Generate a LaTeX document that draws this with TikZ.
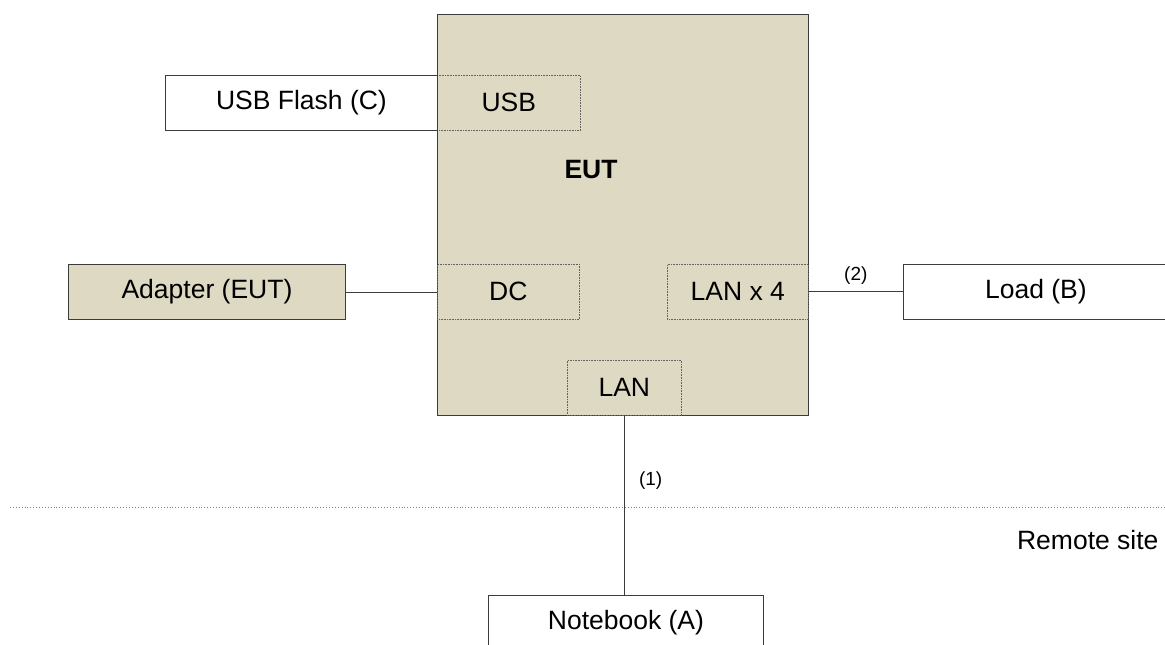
\documentclass[tikz,border=0pt]{standalone}
\usepackage{fontspec}
\setmainfont{Liberation Sans}
\usepackage{tikz}
\usetikzlibrary{positioning}

\definecolor{eutfill}{RGB}{221,217,195}
\definecolor{edge}{RGB}{60,60,60}

\tikzset{
  box/.style={draw=edge, line width=0.9pt, inner sep=0pt, anchor=north west,
    font=\fontsize{26.5}{30}\selectfont},
  port/.style={draw=edge!80, densely dotted, line width=0.6pt, inner sep=0pt,
    anchor=north west, font=\fontsize{26.5}{30}\selectfont},
  wire/.style={draw=edge, line width=0.9pt},
  tag/.style={font=\fontsize{19}{22}\selectfont}
}

\begin{document}
\begin{tikzpicture}[x=1pt,y=-1pt]

      \useasboundingbox (0,0) rectangle (1165,645);
      \clip (0,0) rectangle (1165,645);

      % draw EUT box
      \node[box, fill=eutfill, minimum width=371pt, minimum height=401pt] (eut) at (437,14) {};
      \node[font=\bfseries\fontsize{26.5}{30}\selectfont] (eutname) at (591,170) {EUT};

      % draw ports
      \node[port, minimum width=143pt, minimum height=55pt] (usb) at (437,75) {USB};
      \node[port, minimum width=142pt, minimum height=55pt] (dc) at (437,264) {DC};
      \node[port, minimum width=141pt, minimum height=55pt] (lanx) at (667,264) {LAN x 4};
      \node[port, minimum width=114pt, minimum height=55pt] (lan) at (567,360) {LAN};

      % draw devices
      \node[box, minimum width=272pt, minimum height=55pt] (flash) at (165,75) {USB Flash (C)};
      \node[box, fill=eutfill, minimum width=277pt, minimum height=55pt] (adapter) at (68,264) {Adapter (EUT)};
      \node[box, minimum width=265pt, minimum height=55pt] (load) at (903,264) {Load (B)};
      \node[box, minimum width=275pt, minimum height=55pt] (notebook) at (488,595) {Notebook (A)};

      % draw cables
      \draw[wire] (adapter.east) -- (adapter.east -| dc.west);
      \draw[wire] (lanx.east) -- (lanx.east -| load.west) node[tag, midway, above=4pt] {(2)};
      \draw[wire] (lan.south) -- (lan.south |- notebook.north) node[tag, pos=0.36, right=11pt] {(1)};

      % draw remote site border
      \draw[dotted, line width=0.9pt, gray] (10,507) -- (1165,507);
      \node[anchor=east, font=\fontsize{26.5}{30}\selectfont] (remote) at (1162,540) {Remote site};

\end{tikzpicture}
\end{document}
